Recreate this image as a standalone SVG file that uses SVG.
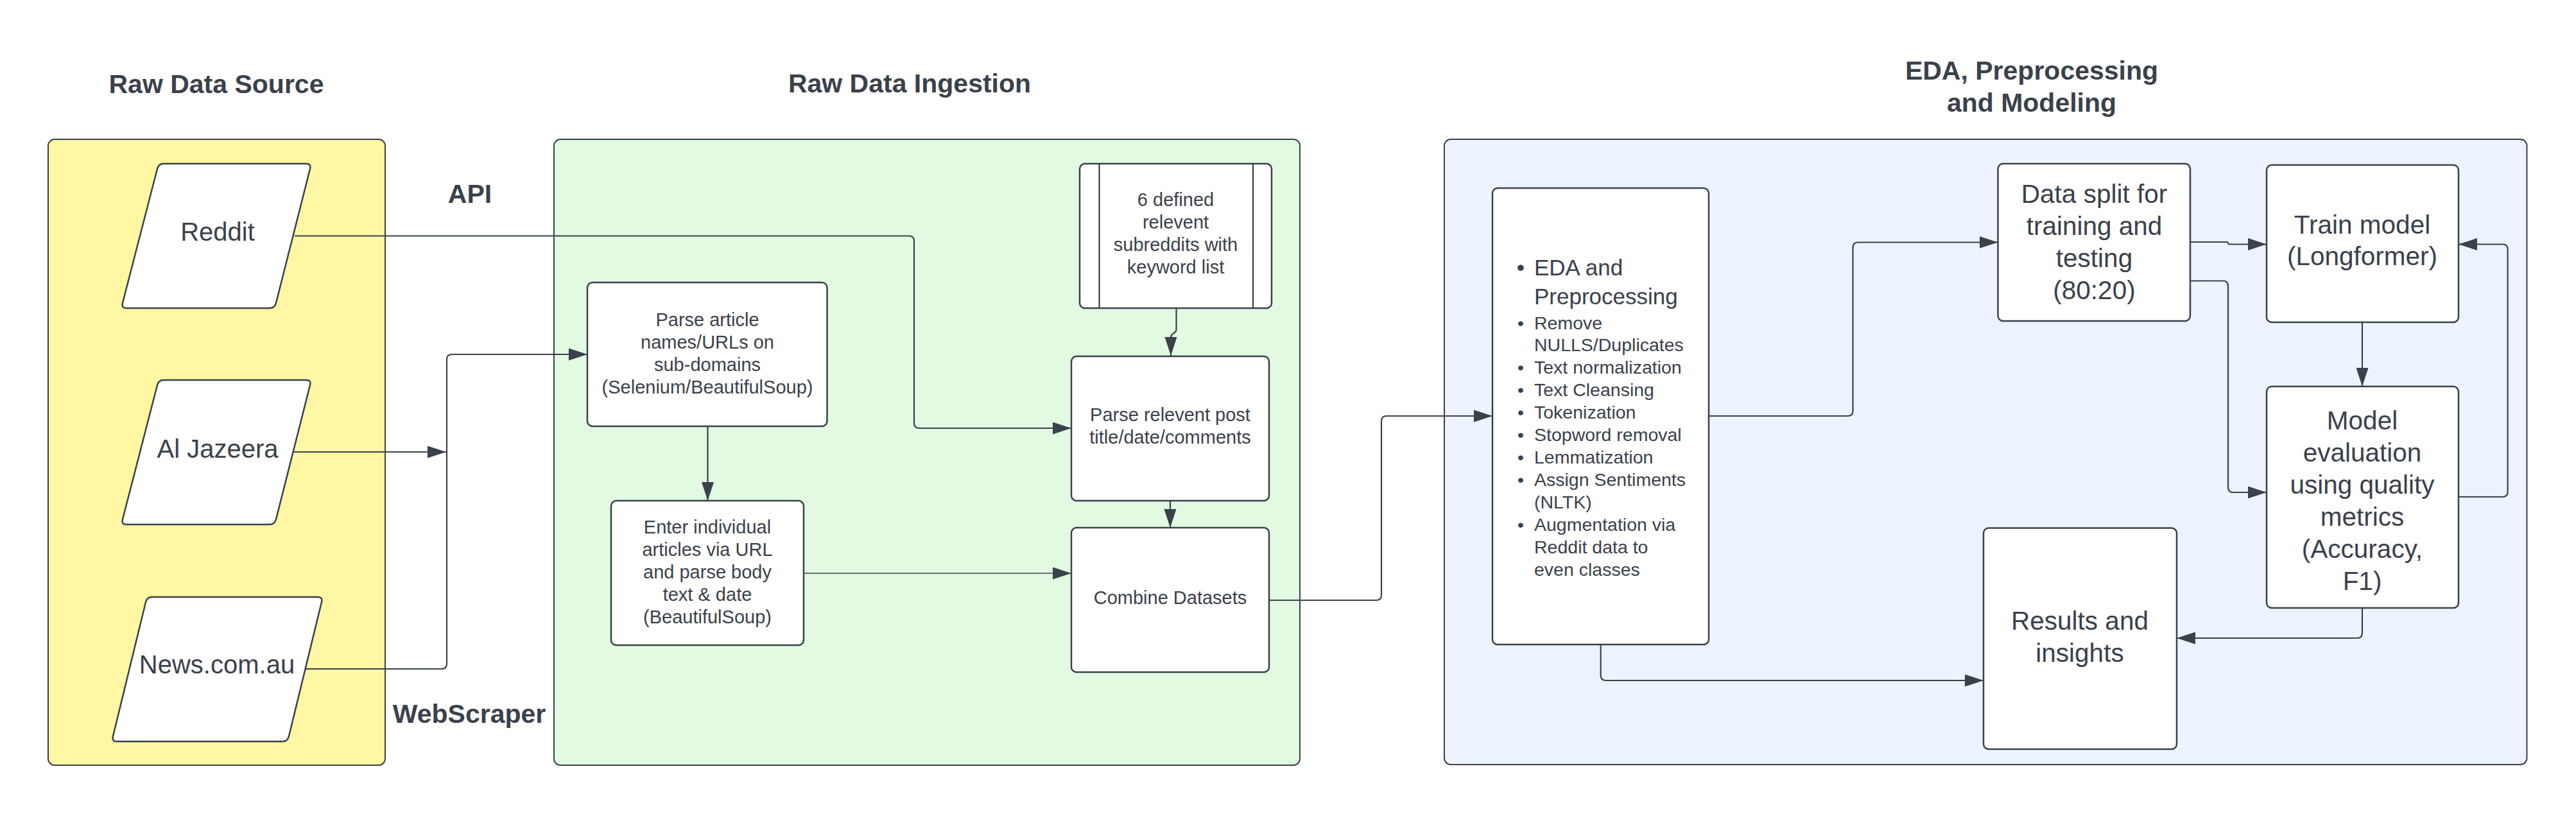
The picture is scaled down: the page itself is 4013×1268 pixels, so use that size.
<svg xmlns="http://www.w3.org/2000/svg" width="4013" height="1268" viewBox="0 0 4013 1268">
<defs>
<style>
.t{font-family:"Liberation Sans",Arial,sans-serif;fill:#3a414a}
.h{font-size:41px;font-weight:bold;text-anchor:middle}
.src{font-size:40px;text-anchor:middle}
.g{font-size:29px;text-anchor:middle}
.b{font-size:40.5px;text-anchor:middle}
.e1{font-size:35px}
.e2{font-size:28.5px}
.panel{stroke:#3a414a;stroke-width:2}
.node{fill:#ffffff;stroke:#3a414a;stroke-width:2.5}
.c{fill:none;stroke:#3a414a;stroke-width:2.2;marker-end:url(#arr)}
</style>
<marker id="arr" markerUnits="userSpaceOnUse" markerWidth="30" markerHeight="20" refX="29" refY="9.5" orient="auto">
<path d="M0,0 L29,9.5 L0,19 Z" fill="#3a414a"/>
</marker>
</defs>
<rect width="4013" height="1268" fill="#ffffff"/>

<g id="panel-source">
<rect class="panel" x="75" y="217" width="525" height="975" rx="10" fill="#fff7a3"/>
<text class="t h" x="337" y="145">Raw Data Source</text>
</g>
<g id="panel-ingestion">
<rect class="panel" x="863" y="217" width="1162" height="975" rx="10" fill="#e2f9e2"/>
<text class="t h" x="1417" y="143.5">Raw Data Ingestion</text>
</g>
<g id="panel-modeling">
<rect class="panel" x="2250" y="217" width="1686.5" height="974" rx="10" fill="#edf4ff"/>
<text class="t h" x="3165" y="124">EDA, Preprocessing</text>
<text class="t h" x="3165" y="174">and Modeling</text>
</g>

<g id="label-api"><text class="t h" x="732" y="316">API</text></g>
<g id="label-webscraper"><text class="t h" x="731" y="1126">WebScraper</text></g>

<g id="connectors">
<path class="c" d="M459,367.5 L1416,367.5 Q1424,367.5 1424,375.5 L1424,659 Q1424,667 1432,667 L1669,667"/>
<path class="c" d="M457,704 L695,704"/>
<path class="c" d="M476,1042 L688,1042 Q696,1042 696,1034 L696,560 Q696,552 704,552 L915,552"/>
<path class="c" d="M1102.5,664 L1102.5,780"/>
<path class="c" d="M1832.5,480 L1832.5,513 C1832.5,520 1824,518 1824,526 L1824,554"/>
<path class="c" d="M1823,780 L1823,822"/>
<path class="c" style="stroke-width:1.6" d="M1252,893 L1669,893"/>
<path class="c" d="M1977,935 L2144,935 Q2152,935 2152,927 L2152,656 Q2152,648 2160,648 L2325,648"/>
<path class="c" d="M2662,648 L2878.5,648 Q2886.5,648 2886.5,640 L2886.5,385.5 Q2886.5,377.5 2894.5,377.5 L3112.5,377.5"/>
<path class="c" d="M2493.7,1004 L2493.7,1052 Q2493.7,1060 2501.7,1060 L3090,1060"/>
<path class="c" d="M3412,377 L3470,377 L3472,380.5 L3531,380.5"/>
<path class="c" d="M3412,437.5 L3463,437.5 Q3471,437.5 3471,445.5 L3471,759 Q3471,767 3479,767 L3531,767"/>
<path class="c" d="M3680,502 L3680,602"/>
<path class="c" d="M3830,774 L3898.6,774 Q3906.6,774 3906.6,766 L3906.6,388.5 Q3906.6,380.5 3898.6,380.5 L3830,380.5"/>
<path class="c" d="M3680,947 L3680,986 Q3680,994 3672,994 L3391,994"/>
</g>

<g id="node-reddit">
<path class="node" d="M255,255 L477,255 Q485,255 483,263 L430,472 Q428,480 420,480 L197,480 Q189,480 191,472 L245,263 Q247,255 255,255 Z"/>
<text class="t src" x="339" y="375">Reddit</text>
</g>
<g id="node-aljazeera">
<path class="node" d="M255,592 L477,592 Q485,592 483,600 L430,809 Q428,817 420,817 L197,817 Q189,817 191,809 L245,600 Q247,592 255,592 Z"/>
<text class="t src" x="339" y="713">Al Jazeera</text>
</g>
<g id="node-newscomau">
<path class="node" d="M237,930 L495,930 Q503,930 501,938 L450,1147 Q448,1155 440,1155 L182,1155 Q174,1155 176,1147 L227,938 Q229,930 237,930 Z"/>
<text class="t src" x="338" y="1049">News.com.au</text>
</g>

<g id="node-parse-article">
<rect class="node" x="915" y="440" width="373.5" height="224" rx="8"/>
<text class="t g" x="1102" y="507.5">Parse article</text>
<text class="t g" x="1102" y="542.5">names/URLs on</text>
<text class="t g" x="1102" y="577.5">sub-domains</text>
<text class="t g" x="1102" y="612.5">(Selenium/BeautifulSoup)</text>
</g>
<g id="node-enter-articles">
<rect class="node" x="952" y="780" width="300" height="225" rx="8"/>
<text class="t g" x="1102" y="830.5">Enter individual</text>
<text class="t g" x="1102" y="865.5">articles via URL</text>
<text class="t g" x="1102" y="900.5">and parse body</text>
<text class="t g" x="1102" y="935.5">text &amp; date</text>
<text class="t g" x="1102" y="970.5">(BeautifulSoup)</text>
</g>
<g id="node-subreddits">
<rect class="node" x="1682" y="255" width="299" height="225" rx="8"/>
<line x1="1712.5" y1="255" x2="1712.5" y2="480" stroke="#3a414a" stroke-width="2.2"/>
<line x1="1952" y1="255" x2="1952" y2="480" stroke="#3a414a" stroke-width="2.2"/>
<text class="t g" x="1831.5" y="320.5">6 defined</text>
<text class="t g" x="1831.5" y="355.5">relevent</text>
<text class="t g" x="1831.5" y="390.5">subreddits with</text>
<text class="t g" x="1831.5" y="425.5">keyword list</text>
</g>
<g id="node-parse-post">
<rect class="node" x="1669" y="555" width="308" height="225" rx="8"/>
<text class="t g" x="1823" y="656">Parse relevent post</text>
<text class="t g" x="1823" y="691">title/date/comments</text>
</g>
<g id="node-combine">
<rect class="node" x="1669" y="822" width="308" height="225" rx="8"/>
<text class="t g" x="1823" y="940.5">Combine Datasets</text>
</g>

<g id="node-eda">
<rect class="node" x="2325" y="293" width="337" height="711" rx="8"/>
<text class="t e1" x="2369" y="429" text-anchor="middle">•</text>
<text class="t e1" x="2390" y="429">EDA and</text>
<text class="t e1" x="2390" y="474">Preprocessing</text>
<g class="t e2">
<text x="2369" y="513" text-anchor="middle">•</text><text x="2390" y="513">Remove</text>
<text x="2390" y="547">NULLS/Duplicates</text>
<text x="2369" y="582" text-anchor="middle">•</text><text x="2390" y="582">Text normalization</text>
<text x="2369" y="617" text-anchor="middle">•</text><text x="2390" y="617">Text Cleansing</text>
<text x="2369" y="652" text-anchor="middle">•</text><text x="2390" y="652">Tokenization</text>
<text x="2369" y="687" text-anchor="middle">•</text><text x="2390" y="687">Stopword removal</text>
<text x="2369" y="722" text-anchor="middle">•</text><text x="2390" y="722">Lemmatization</text>
<text x="2369" y="757" text-anchor="middle">•</text><text x="2390" y="757">Assign Sentiments</text>
<text x="2390" y="792">(NLTK)</text>
<text x="2369" y="827" text-anchor="middle">•</text><text x="2390" y="827">Augmentation via</text>
<text x="2390" y="862">Reddit data to</text>
<text x="2390" y="897">even classes</text>
</g>
</g>
<g id="node-data-split">
<rect class="node" x="3112.5" y="255" width="299.5" height="245" rx="8"/>
<text class="t b" x="3262.5" y="316">Data split for</text>
<text class="t b" x="3262.5" y="366">training and</text>
<text class="t b" x="3262.5" y="416">testing</text>
<text class="t b" x="3262.5" y="466">(80:20)</text>
</g>
<g id="node-train">
<rect class="node" x="3531" y="257" width="299" height="245" rx="8"/>
<text class="t b" x="3680" y="363.5">Train model</text>
<text class="t b" x="3680" y="413">(Longformer)</text>
</g>
<g id="node-evaluation">
<rect class="node" x="3531" y="602" width="299" height="345" rx="8"/>
<text class="t b" x="3680" y="668.5">Model</text>
<text class="t b" x="3680" y="718.5">evaluation</text>
<text class="t b" x="3680" y="768.5">using quality</text>
<text class="t b" x="3680" y="818.5">metrics</text>
<text class="t b" x="3680" y="868.5">(Accuracy,</text>
<text class="t b" x="3680" y="918.5">F1)</text>
</g>
<g id="node-results">
<rect class="node" x="3090" y="822.5" width="301" height="344.5" rx="8"/>
<text class="t b" x="3240" y="980.5">Results and</text>
<text class="t b" x="3240" y="1031">insights</text>
</g>
</svg>
